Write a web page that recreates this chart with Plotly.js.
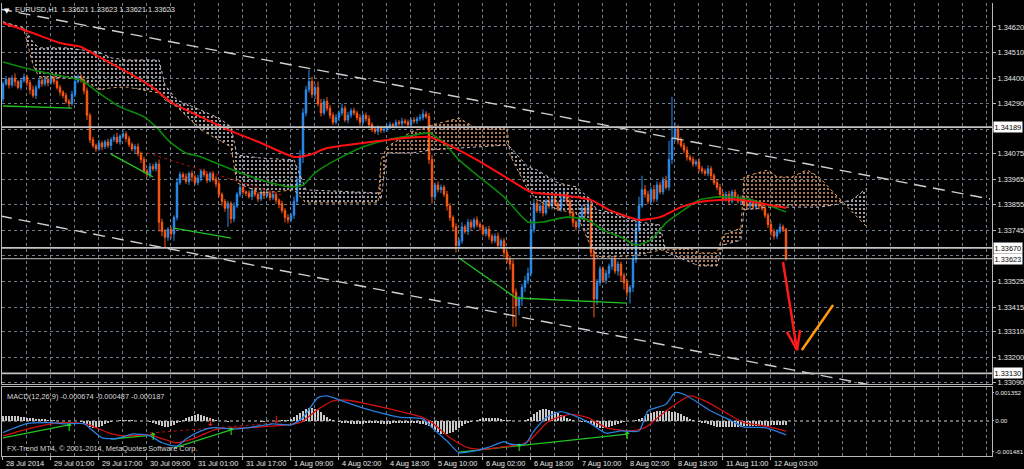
<!DOCTYPE html>
<html><head><meta charset="utf-8">
<script src="https://cdn.plot.ly/plotly-3.0.1.min.js"></script>
<style>html,body{margin:0;padding:0;background:#000;overflow:hidden}#chart{width:1024px;height:469px}</style>
</head><body><div id="chart"></div>
<script>
// ---------- DATA (prices in points of 0.00001 above 1.30000) ----------
const PRICE_BASE = 1.30, PT = 1e-5;
const symbolTitle = 'EURUSD,H1  1.33621 1.33623 1.33621 1.33623';
const firstOpen = 4310;
const closePts = [4375,4395,4370,4400,4385,4360,4390,4405,4380,4350,4325,4360,4390,4375,4395,4380,4400,4385,4360,4340,4325,4300,4290,
4330,4385,4405,4390,
4345,4240,4135,
4110,4095,4120,4105,4125,4110,4135,4145,4125,4150,4160,
4140,4115,4095,4105,4075,4050,4000,3985,
4020,4010,4030,
3780,
3740,3715,3750,3730,
3800,3950,3985,
3975,3955,3990,3975,3950,3970,4000,3985,3960,3990,3965,3945,
3900,3870,3840,3860,3795,
3850,3900,3930,3910,
3905,3890,3915,3900,3880,3910,3895,3905,3885,3900,3875,3860,
3830,3800,3790,3810,
3870,3950,4060,4250,4350,4385,
4330,4360,4290,4250,4300,4270,4240,4210,
4230,4250,4270,4220,4240,4260,4250,4230,4210,4240,4225,4200,4180,4170,4185,4175,
4180,4190,4200,4195,4210,4205,4215,4210,4200,4220,4215,4225,4230,4245,4235,
4050,3890,
3940,3920,3930,3900,
3850,3800,3760,3680,
3700,3760,3740,3780,3760,3790,3770,
3760,3730,3750,3720,3700,3720,3680,3700,3650,3620,3600,
3480,3420,3450,
3500,3530,3560,
3750,3860,
3830,3850,3820,3870,3850,3880,3860,3840,
3880,3900,3870,
3820,3780,3760,
3800,3840,3820,3850,
3650,3450,
3520,3580,3530,3560,
3590,3620,3570,3600,3550,3520,3480,3500,
3620,3750,3850,3920,
3900,3870,3920,3880,3940,3910,3960,3930,
4050,4140,
4180,4130,4110,4090,4060,
4050,4030,4040,4010,
4000,3990,4010,3980,
3950,3930,3900,3880,
3900,3870,3910,3890,3870,3880,
3860,3850,3870,3845,3860,3850,3840,
3810,3770,3740,3720,
3740,3760,3750,
3623];
const hiWick = [10,15,8,12,20,6,10,14,9,12, 18,10,8,15,12,7,10,16,9,11, 8,12,10,15,25,10,12,8,15,10,
12,8,15,10,9,14,10,12,20,8, 15,10,12,8,10,14,9,12,10,15, 12,10,20,15,10,8,12,10,20,12,
10,15,8,12,10,14,9,10,12,8, 10,12,15,8,10,12,10,15,9,12, 10,8,12,10,15,9,10,8,12,10,
14,10,8,12,10,15,10,20,25,30, 20,15,50,20,15,25,20,12,18,15, 12,15,10,20,12,15,10,12,10,15,
10,12,15,10,8,12,10,14,10,12, 8,12,10,15,10,12,9,12,10,15, 20,12,15,20,10,15,12,10,15,12,
10,15,12,20,10,15,12,10,15,12, 10,12,15,10,12,15,10,12,10,15, 20,15,12,15,20,25,40,20,15,12,
15,10,20,15,12,10,15,20,10,12, 15,10,12,15,10,30,25,20,15,12, 10,15,12,10,15,12,10,12,15,10,
20,30,40,60,20,15,12,20,15,12, 15,20,80,180,30,20,15,12,15,10, 12,10,15,12,10,15,12,10,12,15,
10,12,15,10,12,10,15,12,10,15, 10,12,10,15,12,10,15,12,10,15, 10,5];
const loWick = [12,8,15,10,20,8,12,10,15,20, 10,15,8,12,10,15,9,12,10,15, 12,10,20,10,12,8,10,15,20,15,
10,12,8,15,10,12,20,10,8,12, 10,15,12,10,20,12,15,10,12,15, 10,12,40,20,45,15,20,30,12,10,
12,10,15,20,10,12,15,10,12,8, 10,15,12,20,15,80,20,15,10,12, 10,12,8,15,10,12,10,15,10,12,
10,15,20,12,20,15,10,15,12,20, 25,15,12,15,20,12,15,10,12,15, 12,10,15,12,10,15,12,10,12,15,
10,12,15,12,10,15,12,10,12,10, 8,12,10,12,10,15,12,10,12,10, 12,10,20,30,15,12,15,10,20,15,
20,30,15,12,10,15,12,10,12,15, 10,12,15,12,10,15,12,20,15,25, 150,90,40,30,20,15,12,15,10,12,
15,10,12,15,10,12,15,10,12,15, 20,15,12,10,15,12,20,80,25,15, 12,15,20,15,12,20,25,30,20,50,
20,15,12,10,15,12,10,15,12,10, 12,10,15,20,12,15,10,12,15,10, 12,10,15,12,10,12,15,10,12,15,
10,12,15,10,12,10,15,12,10,12, 10,12,15,10,12,15,20,15,12,10, 12,8];

// moving averages (bar index, points)
const maRedBars = [0,9,19,26,32,42,51,56,61,66,75,86,97,102,108,120,131,142,147,158,169,176,186,196,202,212,219,226,232,239,246,252,261];
const maRedPts  = [4637,4598,4551,4534,4491,4422,4349,4297,4263,4233,4177,4121,4061,4069,4099,4121,4138,4147,4121,4048,3962,3910,3897,3876,3833,3790,3802,3845,3867,3876,3876,3863,3841];
const maGreenBars = [0,10,21,26,32,39,47,51,56,61,66,75,86,96,100,104,111,120,128,137,142,147,152,158,167,175,180,188,195,200,206,211,216,221,227,232,239,246,252,261];
const maGreenPts  = [4469,4435,4405,4392,4336,4276,4233,4190,4121,4078,4061,4013,3962,3932,3940,3992,4048,4104,4134,4155,4164,4121,4048,3983,3889,3781,3781,3802,3790,3746,3716,3682,3703,3777,3833,3876,3889,3884,3867,3824];

// Ichimoku cloud spans (bar index, points)
const cloudBars = [0,7,10,12,21,27,32,36,41,52,54,58,66,72,76,78,86,97,101,125,126,128,136,143,152,157,168,169,175,178,185,191,195,198,202,212,219,221,229,232,238,240,246,247,255,258,263,268,272,277,280,283,288];
const spanA = [4642,4607,4456,4405,4401,4392,4349,4358,4362,4336,4306,4276,4177,4134,4104,3949,3906,3919,3863,3863,4048,4104,4168,4198,4228,4190,4190,4069,3919,3876,3833,3820,3703,3630,3630,3639,3660,3660,3669,3648,3648,3725,3755,3975,4005,3975,3975,4005,3975,3906,3867,3824,3759];
const spanB = [4642,4616,4555,4530,4530,4521,4512,4487,4478,4478,4370,4306,4263,4228,4190,4069,4056,4048,3919,3906,3876,4078,4078,4091,4099,4104,4112,4104,4018,4005,3949,3932,3889,3833,3824,3781,3768,3652,3609,3592,3592,3682,3703,3833,3845,3845,3845,3845,3845,3854,3867,3876,3927];

// drawn objects (bar index, points)
const channelUpBars = [-1, 329], channelUpPts = [4697, 3880];
const channelLoBars = [-1, 329], channelLoPts = [3807, 2980];
const greenTrendBars = [[0,23],[36,50],[57,76],[152,171,208]];
const greenTrendPts  = [[4280,4271],[4073,3975],[3755,3712],[3626,3454,3432]];
const redDotBars = [48, 93], redDotPts = [4078, 3897];
const hLevels = [1.34189, 1.33670, 1.33623, 1.33130];
const redArrowBars = [260, 264.7], redArrowPts = [3609, 3230];
const redHeadBars = [261.3, 264.7, 265.7], redHeadPts = [3308, 3230, 3316];
const orangeBars = [266.3, 276.7], orangePts = [3230, 3424];

// MACD (values in 0.00001)
const macdHist = [26,25,24,24,23,22,20,18,16,
14,12,10,9,8,8,7,6,
4,2,1,0,-1,-2,-2,-1,0,
-5,-12,-20,-28,-32,-32,-28,-22,-15,-8,
-3,0,2,3,4,4,3,3,2,2,1,0,-2,-5,-8,
-14,-20,-26,-30,-30,-26,-20,-12,
-4,4,12,20,26,30,32,30,26,20,14,8,
4,2,0,-2,-3,-2,-1,0,1,2,2,1,0,-1,-2,-3,-3,-2,-1,0,1,2,3,4,5,
10,18,28,40,50,58,62,63,60,52,42,
30,20,10,4,0,
-4,-8,-10,-12,-14,-15,-15,-14,-13,-12,-12,-11,-11,-12,-13,-14,-14,-13,-12,-12,-11,-10,-10,-10,-11,-12,-12,-13,-14,
-18,-25,-35,-45,-55,-62,-65,-64,-60,-52,-42,-32,-22,-14,-8,-3,0,
4,8,12,14,15,15,14,12,10,7,5,3,1,0,0,2,5,10,
20,32,44,52,58,58,55,50,44,38,30,22,14,8,
3,0,-2,-4,-6,-10,
-16,-22,-28,-32,-32,-30,-28,-24,-20,-16,-10,
-5,-2,0,2,4,8,
16,24,32,38,42,46,48,48,47,46,44,42,38,32,26,
18,10,4,0,
-4,-8,-12,-16,-20,-24,-27,-29,-30,-31,-31,-30,-29,-28,-27,-26,-25,-25,-24,-24,-23,-23,-22,-22,-21,-21,-20,-20,-19,-19];
const macdBlueBars = [0,8,16,21,27,30,33,38,43,49,53,58,61,66,70,77,82,90,96,100,105,108,113,121,132,140,143,148,152,157,163,167,169,174,177,181,186,192,196,201,206,212,215,221,224,227,236,243,247,254,259,261];
const macdBlueVals = [-56,-13,-8,-14,-13,-48,-81,-85,-63,-72,-105,-121,-87,-48,-32,-39,-32,-14,-19,16,113,121,97,58,19,10,-32,-97,-153,-145,-121,-100,-111,-111,-48,16,45,16,-14,-59,-48,-48,48,81,137,129,48,0,-29,-32,-56,-67];
const macdRedBars = [0,10,19,28,35,40,49,58,63,71,82,93,99,105,110,115,127,140,143,149,155,160,169,173,176,182,189,195,201,209,214,221,229,234,241,247,254,261];
const macdRedVals = [-72,-32,-8,-16,-56,-72,-68,-105,-88,-40,-32,-21,-8,56,97,100,64,16,-8,-81,-129,-137,-121,-113,-88,0,32,16,-32,-48,-32,48,121,97,40,-8,-24,-49];
const macdGreenBars = [[0,22],[36,50],[57,76],[152,208]];
const macdGreenVals = [[-82,-19],[-87,-68],[-130,-43],[-150,-63]];
const macdRedDotBars = [49, 91], macdRedDotVals = [-58, -10];
const upArrowBars = [22, 50, 76, 172, 208], upArrowVals = [-34, -82, -58, -135, -77];
const downArrowBars = [69, 91], downArrowVals = [-10, 0];
const macdLabel = 'MACD(12,26,9) -0.000674 -0.000487 -0.000187';
const copyright = 'FX-Trend MT4, © 2001-2014, MetaQuotes Software Corp.';

// axis labels
const dateBars = [0,16,32,48,64,80,96,112,128,144,160,176,192,208,224,240,256];
const dateLabels = ['28 Jul 2014','29 Jul 01:00','29 Jul 17:00','30 Jul 09:00','31 Jul 01:00','31 Jul 17:00','1 Aug 09:00','4 Aug 02:00','4 Aug 18:00','5 Aug 10:00','6 Aug 02:00','6 Aug 18:00','7 Aug 10:00','8 Aug 02:00','8 Aug 18:00','11 Aug 11:00','12 Aug 03:00'];
const priceTicks = [1.34620,1.34510,1.34400,1.34290,1.34180,1.34075,1.33965,1.33855,1.33745,1.33635,1.33525,1.33415,1.33310,1.33200,1.33090];
const priceTickText = ['1.34620','1.34510','1.34400','1.34290','','1.34075','1.33965','1.33855','1.33745','','1.33525','1.33415','1.33310','1.33200','1.33090'];
const macdTicks = [0.001352, 0, -0.001481];
const macdTickText = ['0.001352','0.00','-0.001481'];

// ---------- BUILD ----------
const P = v => PRICE_BASE + v * PT;
const M = v => v * PT;
const FONT = 'Liberation Sans, Arial, sans-serif';
const bars = closePts.map((_, i) => i);
const open = closePts.map((c, i) => i === 0 ? firstOpen : closePts[i - 1]);
const O = open.map(P), C = closePts.map(P);
const H = closePts.map((c, i) => P(Math.max(open[i], c) + hiWick[i]));
const L = closePts.map((c, i) => P(Math.min(open[i], c) - loWick[i]));

const traces = [];
// cloud segments
(function(){
  const segs = []; let cur = null;
  for (let i = 0; i < cloudBars.length; i++) {
    const x = cloudBars[i], a = spanA[i], b = spanB[i], up = a >= b;
    if (!cur) cur = {x: [], a: [], b: [], up: up};
    if (up !== cur.up) {
      const x0 = cloudBars[i-1], a0 = spanA[i-1], b0 = spanB[i-1];
      const d0 = a0 - b0, d1 = a - b, t = d0 / (d0 - d1);
      const xc = x0 + t * (x - x0), yc = a0 + t * (a - a0);
      cur.x.push(xc); cur.a.push(yc); cur.b.push(yc); segs.push(cur);
      cur = {x: [xc], a: [yc], b: [yc], up: up};
    }
    cur.x.push(x); cur.a.push(a); cur.b.push(b);
  }
  segs.push(cur);
  segs.forEach(s => {
    const col = s.up ? '#d8956a' : '#c8c0c8';
    traces.push({type:'scatter', mode:'lines', x:s.x, y:s.b.map(P), line:{width:0}, xaxis:'x', yaxis:'y', hoverinfo:'skip'});
    traces.push({type:'scatter', mode:'lines', x:s.x, y:s.a.map(P), line:{width:0}, fill:'tonexty',
      fillcolor:'rgba(0,0,0,0)', fillpattern:{shape:'.', size:4, solidity:0.22, fgcolor:col, bgcolor:'rgba(0,0,0,0)'},
      xaxis:'x', yaxis:'y', hoverinfo:'skip'});
  });
})();
traces.push({type:'scatter', mode:'lines', x:cloudBars, y:spanA.map(P), line:{color:'#e0a060', width:1, dash:'dot'}, xaxis:'x', yaxis:'y'});
traces.push({type:'scatter', mode:'lines', x:cloudBars, y:spanB.map(P), line:{color:'#c8b8c8', width:1, dash:'dot'}, xaxis:'x', yaxis:'y'});

// candles
traces.push({type:'candlestick', x:bars, open:O, high:H, low:L, close:C, xaxis:'x', yaxis:'y', whiskerwidth:0,
  increasing:{line:{color:'#2c8ff0', width:1}, fillcolor:'#2c8ff0'},
  decreasing:{line:{color:'#ff5a14', width:1}, fillcolor:'#ff5a14'}, hoverinfo:'skip'});

// moving averages
traces.push({type:'scatter', mode:'lines', x:maGreenBars, y:maGreenPts.map(P), line:{color:'#0a8a0a', width:1.6, shape:'spline', smoothing:0.6}, xaxis:'x', yaxis:'y'});
traces.push({type:'scatter', mode:'lines', x:maRedBars, y:maRedPts.map(P), line:{color:'#ff1010', width:2, shape:'spline', smoothing:0.6}, xaxis:'x', yaxis:'y'});

// channel lines
traces.push({type:'scatter', mode:'lines', x:channelUpBars, y:channelUpPts.map(P), line:{color:'#d0d0d0', width:1.4, dash:'12px,7px'}, xaxis:'x', yaxis:'y'});
traces.push({type:'scatter', mode:'lines', x:channelLoBars, y:channelLoPts.map(P), line:{color:'#d0d0d0', width:1.4, dash:'12px,7px'}, xaxis:'x', yaxis:'y'});
// trendlines
greenTrendBars.forEach((b, k) => traces.push({type:'scatter', mode:'lines', x:b, y:greenTrendPts[k].map(P), line:{color:'#22c322', width:1.3}, xaxis:'x', yaxis:'y'}));
traces.push({type:'scatter', mode:'lines', x:redDotBars, y:redDotPts.map(P), line:{color:'#b01010', width:1, dash:'dot'}, xaxis:'x', yaxis:'y'});
// arrow drawing
traces.push({type:'scatter', mode:'lines', x:redArrowBars, y:redArrowPts.map(P), line:{color:'#ff1a1a', width:2.5}, xaxis:'x', yaxis:'y'});
traces.push({type:'scatter', mode:'lines', x:redHeadBars, y:redHeadPts.map(P), line:{color:'#ff1a1a', width:2.5}, xaxis:'x', yaxis:'y'});
traces.push({type:'scatter', mode:'lines', x:orangeBars, y:orangePts.map(P), line:{color:'#ff9a10', width:2.5}, xaxis:'x', yaxis:'y'});

// MACD panel
traces.push({type:'bar', x:bars, y:macdHist.map(M), width:0.5, marker:{color:'#c8c8c8', line:{width:0}}, xaxis:'x2', yaxis:'y2', hoverinfo:'skip'});
macdGreenBars.forEach((b, k) => traces.push({type:'scatter', mode:'lines', x:b, y:macdGreenVals[k].map(M), line:{color:'#22c322', width:1.3}, xaxis:'x2', yaxis:'y2'}));
traces.push({type:'scatter', mode:'lines', x:macdRedDotBars, y:macdRedDotVals.map(M), line:{color:'#c01010', width:1, dash:'dot'}, xaxis:'x2', yaxis:'y2'});
traces.push({type:'scatter', mode:'lines', x:macdRedBars, y:macdRedVals.map(M), line:{color:'#d01010', width:1.3, shape:'spline', smoothing:0.6}, xaxis:'x2', yaxis:'y2'});
traces.push({type:'scatter', mode:'lines', x:macdBlueBars, y:macdBlueVals.map(M), line:{color:'#2a7fe0', width:1.3, shape:'spline', smoothing:0.6}, xaxis:'x2', yaxis:'y2'});
traces.push({type:'scatter', mode:'text', x:upArrowBars, y:upArrowVals.map(M), text:upArrowBars.map(()=>'↑'), textfont:{family:'DejaVu Sans', size:10, color:'#20ff20'}, xaxis:'x2', yaxis:'y2'});
traces.push({type:'scatter', mode:'text', x:downArrowBars, y:downArrowVals.map(M), text:downArrowBars.map(()=>'↓'), textfont:{family:'DejaVu Sans', size:10, color:'#ff2020'}, xaxis:'x2', yaxis:'y2'});

const GRID = '#6f7c8a', AXL = '#b8b8b8', TXT = '#e8e8e8';
const xRange = [-0.33, 329.67];
const annotations = [];
annotations.push({xref:'paper', yref:'paper', x:0, y:1, xanchor:'left', yanchor:'top', xshift:0, yshift:-2, text:'▼', showarrow:false, font:{family:'DejaVu Sans', size:7, color:'#ffffff'}});
annotations.push({xref:'paper', yref:'paper', x:0, y:1, xanchor:'left', yanchor:'top', xshift:11, yshift:0, text:symbolTitle, showarrow:false, font:{family:FONT, size:7.4, color:'#e0e0e0'}});
hLevels.forEach(v => annotations.push({xref:'paper', yref:'y', x:1, y:v, xanchor:'left', yanchor:'middle', xshift:1, text:v.toFixed(5), showarrow:false,
  bgcolor:'#ffffff', borderpad:0.5, font:{family:FONT, size:7.4, color:'#000000'}}));
dateBars.forEach((b, k) => annotations.push({xref:'x2', yref:'paper', x:b, y:0, xanchor:'left', yanchor:'top', xshift:1, yshift:-1, text:dateLabels[k], showarrow:false, font:{family:FONT, size:7.4, color:TXT}}));
annotations.push({xref:'paper', yref:'y2 domain', x:0, y:1, xanchor:'left', yanchor:'top', xshift:3, yshift:-3, text:macdLabel, showarrow:false, font:{family:FONT, size:7.4, color:'#d8d8d8'}});
annotations.push({xref:'paper', yref:'y2 domain', x:0, y:0, xanchor:'left', yanchor:'bottom', xshift:3, yshift:1, text:copyright, showarrow:false, font:{family:FONT, size:7.4, color:'#d8d8d8'}});

const shapes = hLevels.map((v, k) => ({type:'line', xref:'paper', yref:'y', x0:0, x1:1, y0:v, y1:v, layer:'above',
  line:{color:'#c4c4c4', width: k === 2 ? 1 : 1.8}}));
shapes.push({type:'line', xref:'paper', yref:'y2', x0:0, x1:1, y0:0, y1:0, layer:'below', line:{color:'#d0d0d0', width:1, dash:'dot'}});

const gridCommon = {showgrid:true, gridcolor:GRID, griddash:'dot', gridwidth:1,
  minor:{tick0:0, dtick:8, showgrid:true, gridcolor:GRID, griddash:'dot', gridwidth:1}};
const layout = {
  width:1024, height:469, margin:{l:2, r:32, t:3, b:13},
  paper_bgcolor:'#000000', plot_bgcolor:'#000000', showlegend:false, hovermode:false,
  xaxis:Object.assign({anchor:'y', range:xRange, tickmode:'array', tickvals:dateBars, showticklabels:false, ticks:'',
    zeroline:false, showline:true, linecolor:AXL, linewidth:1, rangeslider:{visible:false}, fixedrange:true}, gridCommon),
  yaxis:{domain:[0.1589, 1], anchor:'x', side:'right', range:[1.33084, 1.34723], tickmode:'array', tickvals:priceTicks, ticktext:priceTickText,
    ticks:'outside', ticklen:3, tickcolor:AXL, showgrid:true, gridcolor:GRID, griddash:'dot', zeroline:false,
    showline:true, mirror:true, linecolor:AXL, linewidth:1, tickfont:{family:FONT, size:7.4, color:TXT}, fixedrange:true},
  xaxis2:Object.assign({anchor:'y2', matches:'x', range:xRange, tickmode:'array', tickvals:dateBars, showticklabels:false,
    ticks:'outside', ticklen:3, tickcolor:AXL, zeroline:false, showline:true, mirror:true, linecolor:AXL, linewidth:1, fixedrange:true}, gridCommon),
  yaxis2:{domain:[0, 0.1523], anchor:'x2', side:'right', range:[-0.00169, 0.00164], tickmode:'array', tickvals:macdTicks, ticktext:macdTickText,
    ticks:'outside', ticklen:1, tickcolor:AXL, showgrid:false, zeroline:false, showline:true, mirror:true, linecolor:AXL, linewidth:1,
    tickfont:{family:FONT, size:6.2, color:TXT}, fixedrange:true},
  bargap:0, annotations:annotations, shapes:shapes
};
Plotly.newPlot('chart', traces, layout, {staticPlot:true, displayModeBar:false});
</script>
</body></html>
